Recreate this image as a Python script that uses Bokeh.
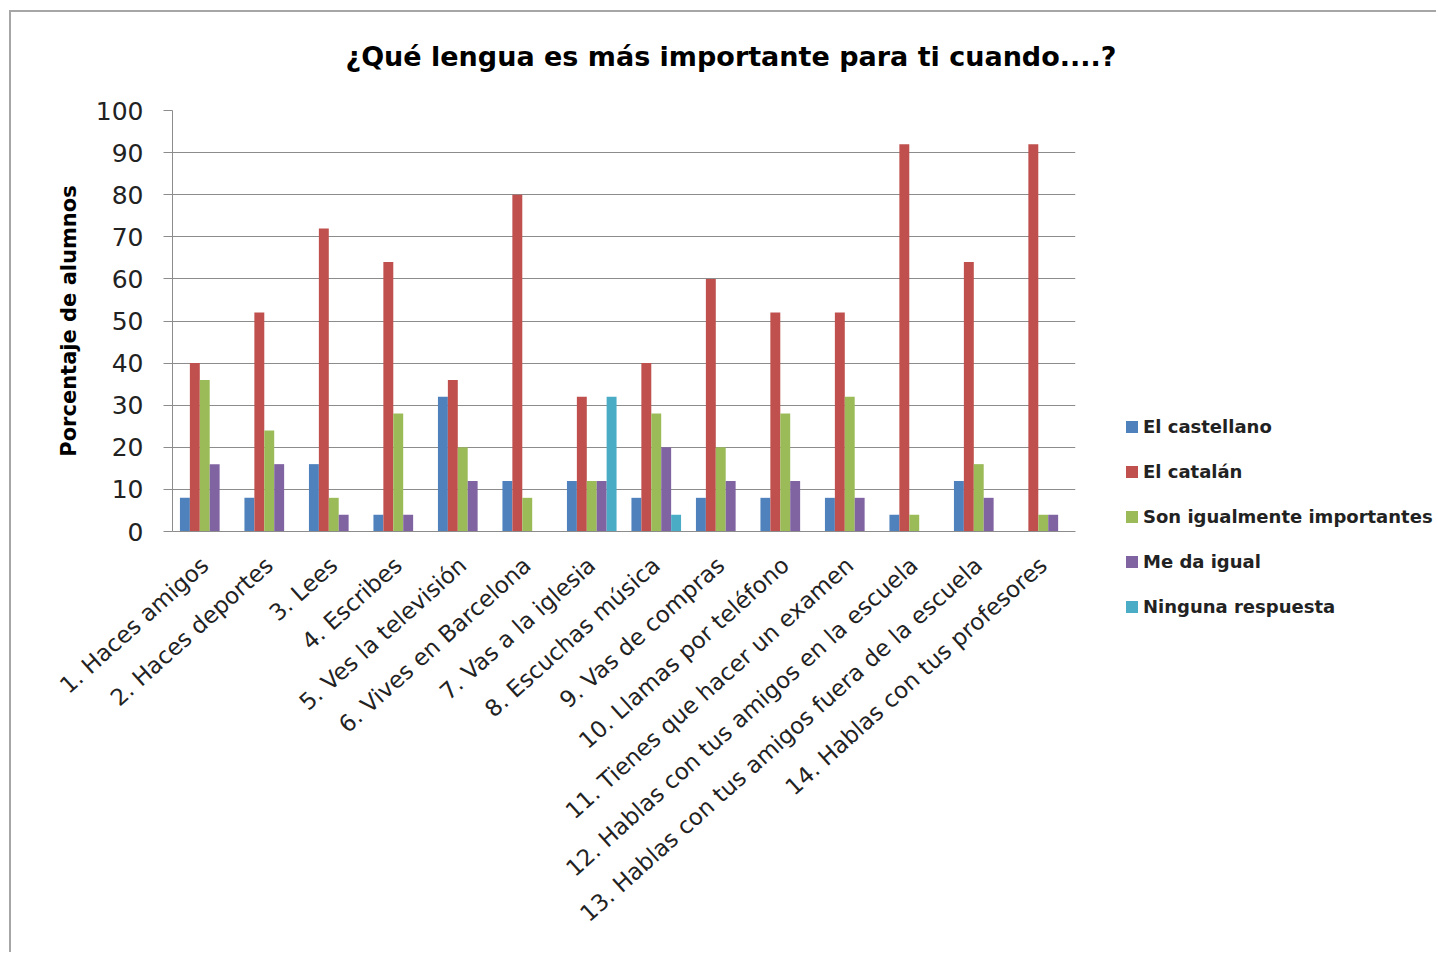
import math
from bokeh.plotting import figure
from bokeh.layouts import row
from bokeh.models import ColumnDataSource, FixedTicker, Legend, LegendItem, Range1d, Title
from bokeh.transform import dodge
from bokeh.embed import file_html
from bokeh.resources import INLINE

categories = ["1. Haces amigos", "2. Haces deportes", "3. Lees", "4. Escribes",
              "5. Ves la televisión", "6. Vives en Barcelona", "7. Vas a la iglesia",
              "8. Escuchas música", "9. Vas de compras", "10. Llamas por teléfono",
              "11. Tienes que hacer un examen", "12. Hablas con tus amigos en la escuela",
              "13. Hablas con tus amigos fuera de la escuela", "14. Hablas con tus profesores"]
castellano = [8, 8, 16, 4, 32, 12, 12, 8, 8, 8, 8, 4, 12, 0]
catalan = [40, 52, 72, 64, 36, 80, 32, 40, 60, 52, 52, 92, 64, 92]
iguales = [36, 24, 8, 28, 20, 8, 12, 28, 20, 28, 32, 4, 16, 4]
me_da_igual = [16, 16, 4, 4, 12, 0, 12, 20, 12, 12, 8, 0, 8, 4]
ninguna = [0, 0, 0, 0, 0, 0, 32, 4, 0, 0, 0, 0, 0, 0]
series_names = ["El castellano", "El catalán", "Son igualmente importantes",
                "Me da igual", "Ninguna respuesta"]
series_colors = ["#4F81BD", "#C0504D", "#9BBB59", "#8064A2", "#4BACC6"]
y_ticks = list(range(0, 101, 10))

FONT = "DejaVu Sans"
n = len(categories)
xs = [i + 0.5 for i in range(n)]
data = dict(x=xs, s0=castellano, s1=catalan, s2=iguales, s3=me_da_igual, s4=ninguna)
source = ColumnDataSource(data)

H = 940
p = figure(width=1113, height=H, output_backend="svg", toolbar_location=None,
           x_range=Range1d(0, n), y_range=Range1d(0, 100),
           min_border_left=161, min_border_right=49, min_border_top=98, min_border_bottom=H - 519)
p.frame_align = False

w = 1 / 6.5
for k in range(5):
    p.vbar(x=dodge("x", (k - 2) * w, range=p.x_range), top="s%d" % k, width=w,
           source=source, fill_color=series_colors[k], line_color=None)

# spacer between frame and title, then the title itself (outermost)
p.add_layout(Title(text=" ", text_font_size="1px", standoff=36), "above")
p.title = Title(text="¿Qué lengua es más importante para ti cuando....?", align="left", offset=173,
                text_font=FONT, text_font_size="27px", text_font_style="bold",
                text_color="#000000", standoff=0)

p.outline_line_color = None
p.xgrid.grid_line_color = None
p.ygrid.grid_line_color = "#8c8c8c"
p.ygrid.grid_line_width = 1

p.yaxis.ticker = FixedTicker(ticks=y_ticks)
p.yaxis.minor_tick_line_color = None
p.yaxis.major_tick_out = 9
p.yaxis.major_tick_in = 0
p.yaxis.major_tick_line_color = "#8c8c8c"
p.yaxis.axis_line_color = "#8c8c8c"
p.yaxis.major_label_standoff = 20
p.yaxis.major_label_text_font = FONT
p.yaxis.major_label_text_font_size = "25px"
p.yaxis.major_label_text_color = "#222222"
p.yaxis.axis_label = "Porcentaje de alumnos"
p.yaxis.axis_label_text_font = FONT
p.yaxis.axis_label_text_font_size = "21px"
p.yaxis.axis_label_text_font_style = "bold"
p.yaxis.axis_label_text_color = "#000000"
p.yaxis.axis_label_standoff = 12

p.xaxis.ticker = FixedTicker(ticks=xs)
p.xaxis.major_label_overrides = {x: c for x, c in zip(xs, categories)}
p.xaxis.major_label_orientation = math.radians(42)
p.xaxis.major_tick_line_color = None
p.xaxis.major_tick_out = 0
p.xaxis.major_tick_in = 0
p.xaxis.minor_tick_line_color = None
p.xaxis.axis_line_color = "#8c8c8c"
p.xaxis.major_label_standoff = 30
p.xaxis.major_label_text_font = FONT
p.xaxis.major_label_text_font_size = "23px"
p.xaxis.major_label_text_color = "#222222"

# legend panel to the right of the chart (its bars lie outside its visible range)
q = figure(width=312, height=H, output_backend="svg", toolbar_location=None,
           x_axis_location=None, y_axis_location=None, min_border=0,
           x_range=Range1d(-2, -1), y_range=Range1d(0, 100))
q.frame_align = False
q.outline_line_color = None
q.xgrid.grid_line_color = None
q.ygrid.grid_line_color = None
leg_renderers = [q.vbar(x="x", top="s%d" % k, width=w, source=source,
                        fill_color=series_colors[k], line_color=None) for k in range(5)]
legend = Legend(items=[LegendItem(label=series_names[k], renderers=[leg_renderers[k]]) for k in range(5)],
                location=(0, 335), glyph_width=15, glyph_height=15, label_standoff=4,
                spacing=24, padding=0, margin=0, border_line_alpha=0, background_fill_alpha=0,
                label_text_font=FONT, label_text_font_style="bold", label_text_font_size="18px",
                label_text_color="#222222", label_height=20)
q.add_layout(legend)

layout = row(p, q, styles={"border-left": "2px solid #a6a6a6", "border-top": "2px solid #a6a6a6",
                           "margin-left": "9px", "margin-top": "10px"})

open("out.html", "w").write(file_html(layout, INLINE))
